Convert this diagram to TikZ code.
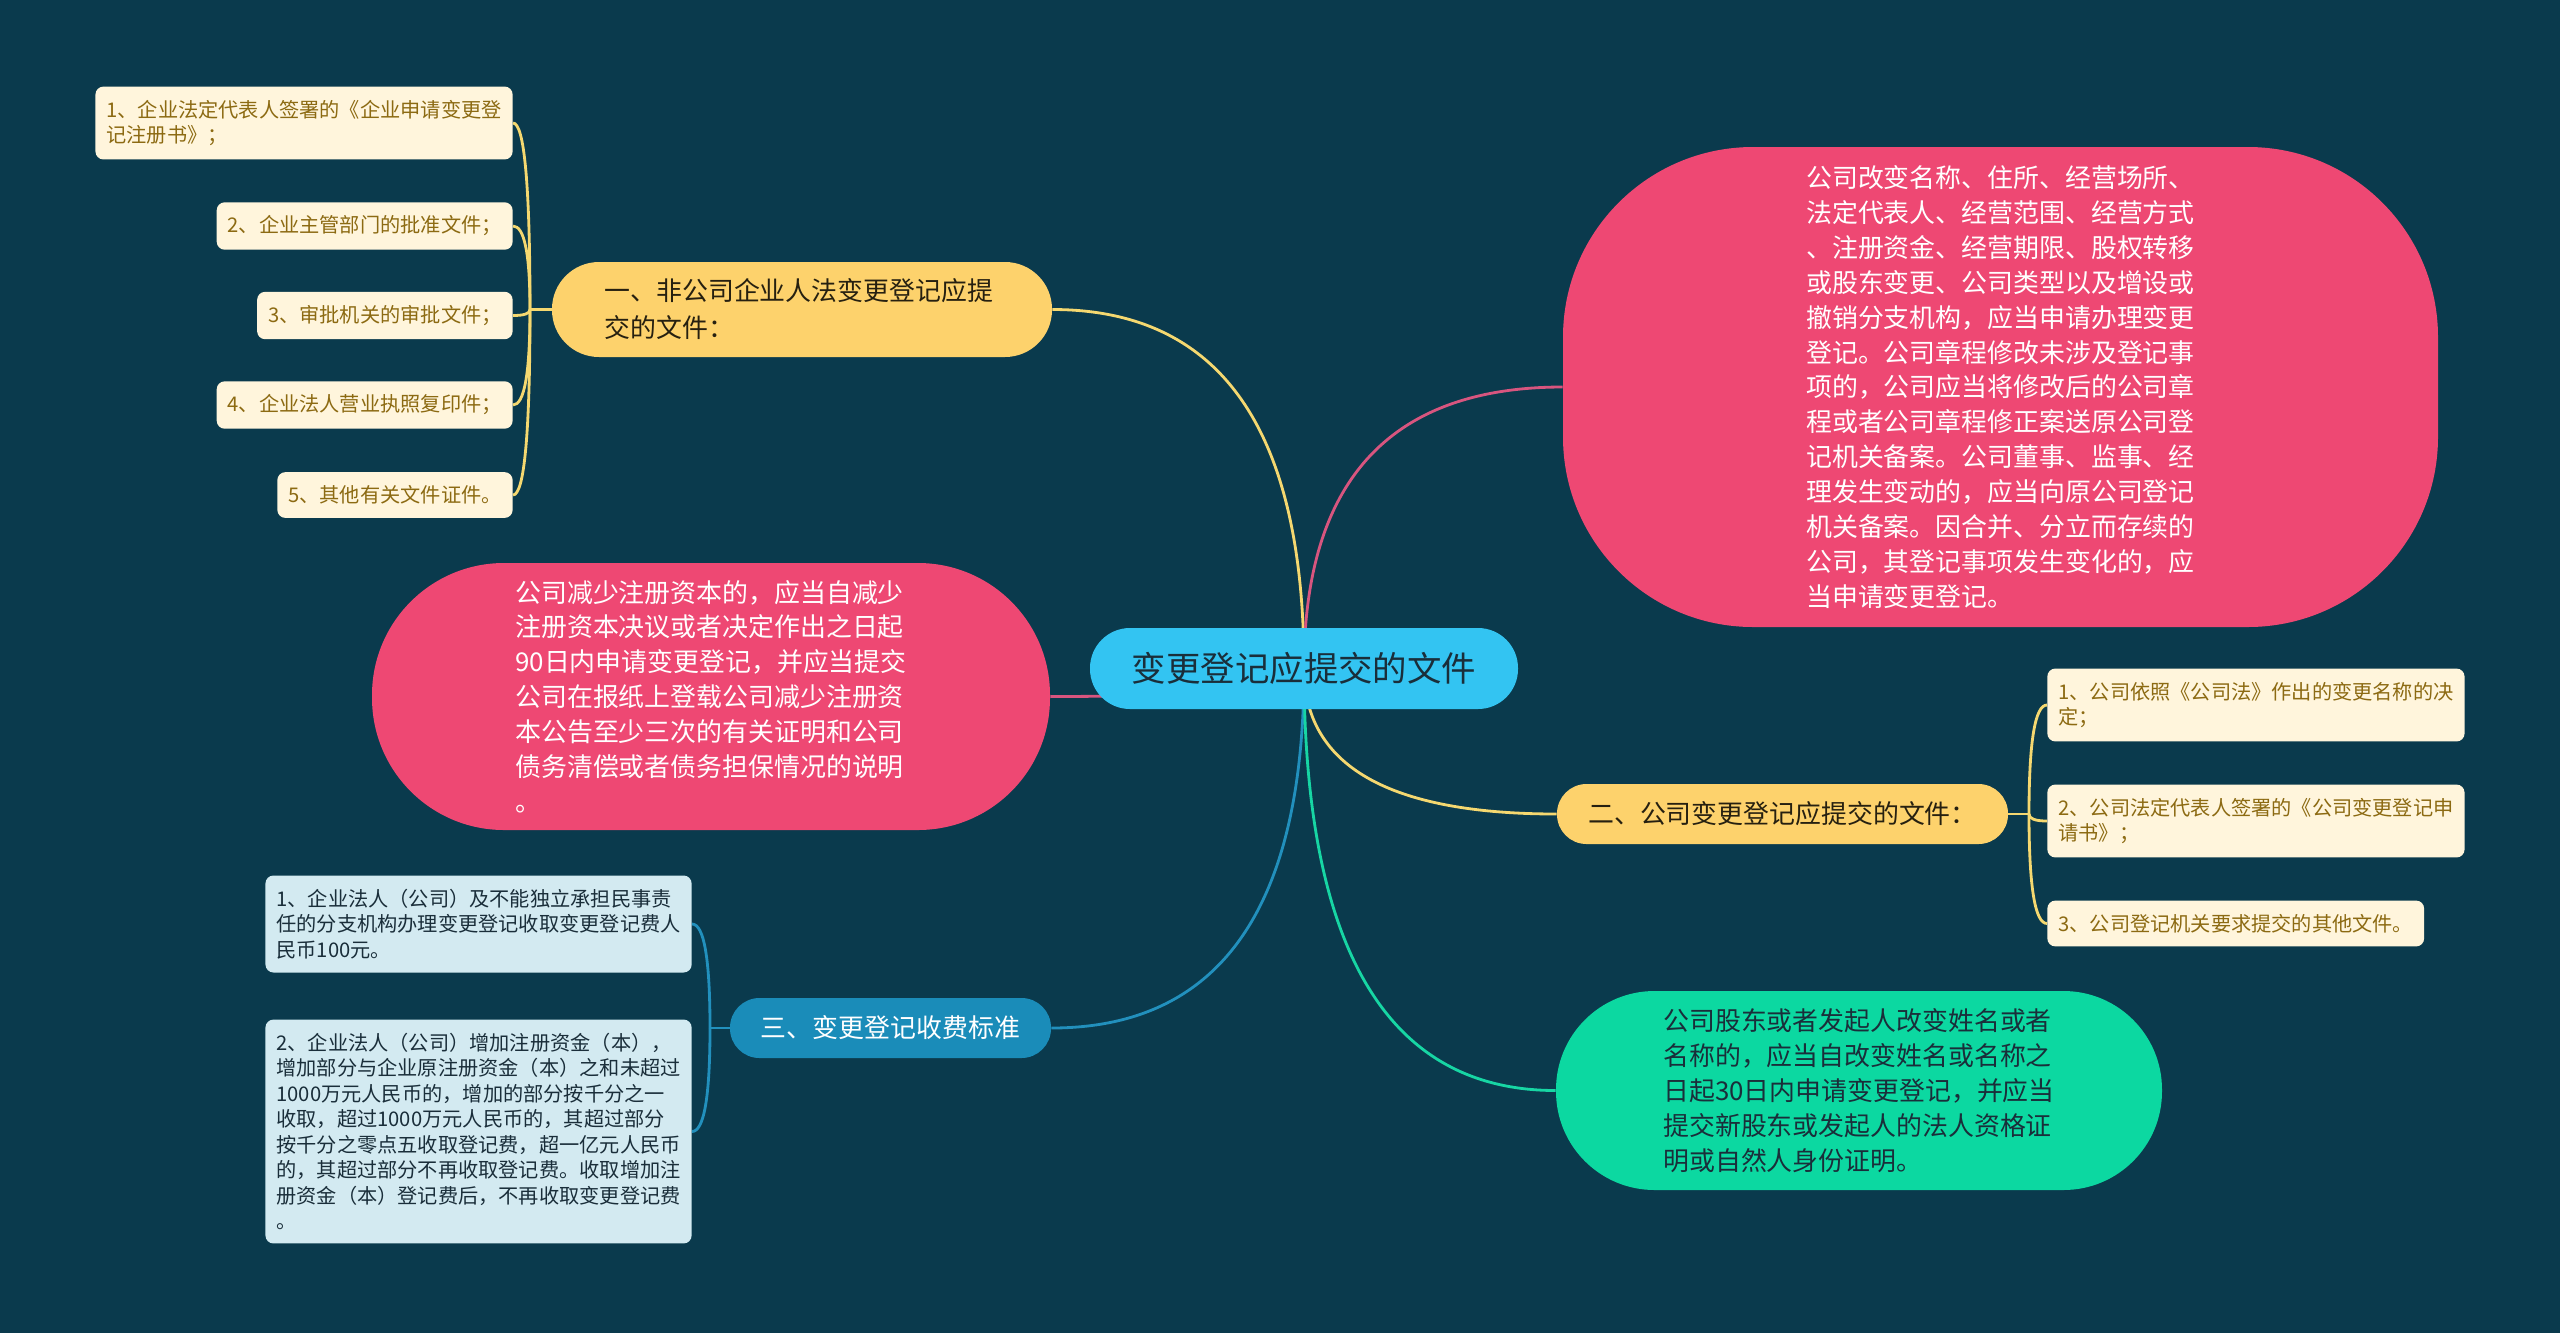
\documentclass[tikz,border=0pt]{standalone}
\usepackage{fontspec}
\setmainfont{Noto Sans CJK SC}
\usetikzlibrary{positioning, calc}

\definecolor{bgc}{HTML}{0A3A4D}
\definecolor{rootc}{HTML}{33C4F2}
\definecolor{yelc}{HTML}{FDD26C}
\definecolor{creamc}{HTML}{FFF5DC}
\definecolor{pinkc}{HTML}{EE4873}
\definecolor{greenc}{HTML}{0CD8A1}
\definecolor{bluec}{HTML}{1A8CB9}
\definecolor{lbluec}{HTML}{D3EAF1}
\definecolor{yline}{HTML}{F5D870}
\definecolor{pline}{HTML}{D8557F}
\definecolor{bline}{HTML}{2290BD}
\definecolor{gline}{HTML}{17D6A4}
\definecolor{brownc}{HTML}{8C6A12}
\definecolor{darkc}{HTML}{1A2E3A}

\pgfdeclarelayer{bg}
\pgfdeclarelayer{edges}
\pgfsetlayers{bg,edges,main}

\begin{document}
\begin{tikzpicture}[
    root/.style={fill=rootc, text=darkc, rounded corners=0.8cm, minimum width=8.56cm, minimum height=1.62cm, font=\fontsize{19.6}{24}\selectfont},
    topic_y/.style={fill=yelc, text=black!85!yelc, align=left, font=\fontsize{14.74}{21}\selectfont},
    topic_b/.style={fill=bluec, text=white, align=left, font=\fontsize{14.74}{21}\selectfont},
    bubble/.style={fill=pinkc, text=white, align=left, font=\fontsize{14.74}{19.84}\selectfont},
    bubble_g/.style={fill=greenc, text=darkc, align=left, font=\fontsize{14.74}{19.84}\selectfont},
    leaf_y/.style={fill=creamc, text=brownc, rounded corners=0.16cm, align=left, inner xsep=0.22cm, inner ysep=0.27cm, font=\fontsize{11.5}{14.5}\selectfont},
    leaf_b/.style={leaf_y, fill=lbluec, text=darkc},
    link/.style={line width=1.6pt, to path={.. controls ($(\tikztostart)!0.667!(\tikztostart |- \tikztotarget)$) and ($(\tikztotarget)!0.667!(\tikztostart |- \tikztotarget)$) .. (\tikztotarget)}},
    link_y/.style={link, yline},
    link_p/.style={link, pline},
    link_b/.style={link, bline},
    link_g/.style={link, gline}
]

\begin{pgfonlayer}{bg}
\fill[bgc] (0,0) rectangle (51.2,-26.66);
\end{pgfonlayer}
\useasboundingbox (0,0) rectangle (51.2,-26.66);

\node[root] (c) at (26.08,-13.37) {变更登记应提交的文件};

% first level
\node[topic_y, minimum width=10cm, minimum height=1.9cm, rounded corners=0.94cm, text width=7.9cm] (b1) at (16.04,-6.19) {一、非公司企业人法变更登记应提\\交的文件：};
\node[topic_y, minimum width=9.02cm, minimum height=1.2cm, rounded corners=0.59cm] (b2) at (35.65,-16.28) {二、公司变更登记应提交的文件：};
\node[topic_b, minimum width=6.42cm, minimum height=1.2cm, rounded corners=0.59cm] (b3) at (17.81,-20.56) {三、变更登记收费标准};

\node[bubble, minimum width=17.5cm, minimum height=9.6cm, rounded corners=3.8cm] (pr) at (40.01,-7.74) {公司改变名称、住所、经营场所、\\法定代表人、经营范围、经营方式\\、注册资金、经营期限、股权转移\\或股东变更、公司类型以及增设或\\撤销分支机构，应当申请办理变更\\登记。公司章程修改未涉及登记事\\项的，公司应当将修改后的公司章\\程或者公司章程修正案送原公司登\\记机关备案。公司董事、监事、经\\理发生变动的，应当向原公司登记\\机关备案。因合并、分立而存续的\\公司，其登记事项发生变化的，应\\当申请变更登记。};
\node[bubble, minimum width=13.56cm, minimum height=5.34cm, rounded corners=2.64cm] (pl) at (14.22,-13.93) {公司减少注册资本的，应当自减少\\注册资本决议或者决定作出之日起\\90日内申请变更登记，并应当提交\\公司在报纸上登载公司减少注册资\\本公告至少三次的有关证明和公司\\债务清偿或者债务担保情况的说明\\。};
\node[bubble_g, minimum width=12.12cm, minimum height=3.98cm, rounded corners=1.97cm] (g) at (37.18,-21.81) {公司股东或者发起人改变姓名或者\\名称的，应当自改变姓名或名称之\\日起30日内申请变更登记，并应当\\提交新股东或发起人的法人资格证\\明或自然人身份证明。};

% leaves of b1
\node[leaf_y, anchor=east] (l1) at (10.26,-2.46) {1、企业法定代表人签署的《企业申请变更登\\记注册书》；};
\node[leaf_y, anchor=east] (l2) at (10.26,-4.52) {2、企业主管部门的批准文件；};
\node[leaf_y, anchor=east] (l3) at (10.26,-6.31) {3、审批机关的审批文件；};
\node[leaf_y, anchor=east] (l4) at (10.26,-8.10) {4、企业法人营业执照复印件；};
\node[leaf_y, anchor=east] (l5) at (10.26,-9.90) {5、其他有关文件证件。};
\coordinate (j1) at (10.6,-6.19);

% leaves of b2
\node[leaf_y, anchor=west] (r1) at (40.94,-14.10) {1、公司依照《公司法》作出的变更名称的决\\定；};
\node[leaf_y, anchor=west] (r2) at (40.94,-16.42) {2、公司法定代表人签署的《公司变更登记申\\请书》；};
\node[leaf_y, anchor=west] (r3) at (40.94,-18.47) {3、公司登记机关要求提交的其他文件。};
\coordinate (j2) at (40.58,-16.28);

% leaves of b3
\node[leaf_b, anchor=east] (s1) at (13.84,-18.48) {1、企业法人（公司）及不能独立承担民事责\\任的分支机构办理变更登记收取变更登记费人\\民币100元。};
\node[leaf_b, anchor=east] (s2) at (13.84,-22.63) {2、企业法人（公司）增加注册资金（本），\\增加部分与企业原注册资金（本）之和未超过\\1000万元人民币的，增加的部分按千分之一\\收取，超过1000万元人民币的，其超过部分\\按千分之零点五收取登记费，超一亿元人民币\\的，其超过部分不再收取登记费。收取增加注\\册资金（本）登记费后，不再收取变更登记费\\。};
\coordinate (j3) at (14.2,-20.56);

\begin{pgfonlayer}{edges}
% edges from the root
\draw[link_y] (c.center) to (b1.east);
\draw[link_p] (c.center) to (pr.west);
\draw[link_p] (c.center) to (pl.east);
\draw[link_y] (c.center) to (b2.west);
\draw[link_b] (c.center) to (b3.east);
\draw[link_g] (c.center) to (g.west);

% brackets
\draw[link_y] (b1.west) -- (j1);
\draw[link_y] (j1) to (l1.east);
\draw[link_y] (j1) to (l2.east);
\draw[link_y] (j1) to (l3.east);
\draw[link_y] (j1) to (l4.east);
\draw[link_y] (j1) to (l5.east);

\draw[link_y] (b2.east) -- (j2);
\draw[link_y] (j2) to (r1.west);
\draw[link_y] (j2) to (r2.west);
\draw[link_y] (j2) to (r3.west);

\draw[link_b] (b3.west) -- (j3);
\draw[link_b] (j3) to (s1.east);
\draw[link_b] (j3) to (s2.east);
\end{pgfonlayer}

\end{tikzpicture}
\end{document}
